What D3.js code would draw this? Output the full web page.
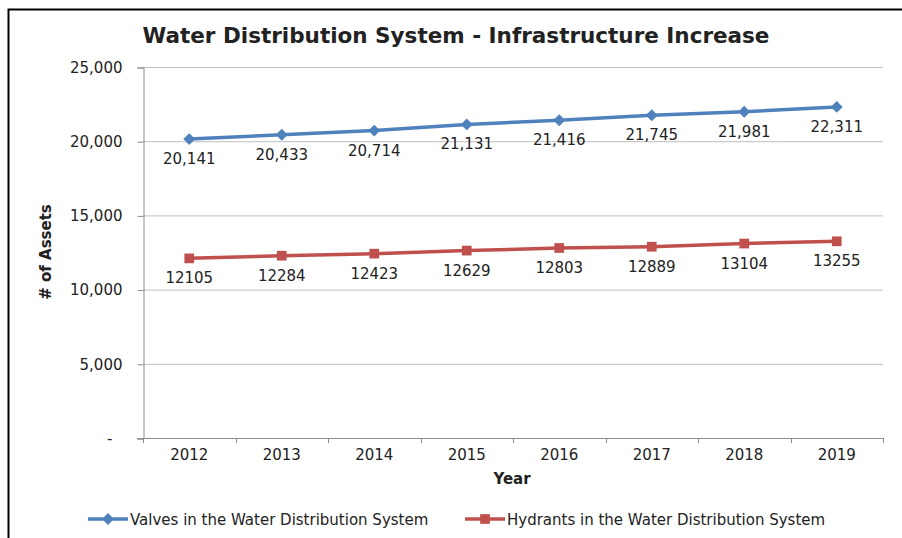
<!DOCTYPE html>
<html>
<head>
<meta charset="utf-8">
<script src="https://cdn.jsdelivr.net/npm/d3@7/dist/d3.min.js"></script>
<style>
  html, body { margin: 0; padding: 0; background: #fff; }
  svg { display: block; }
  text { font-family: "DejaVu Sans", sans-serif; fill: #222; }
</style>
</head>
<body>
<svg id="chart" width="902" height="538"></svg>
<script>
// Asset counts per year
const years = ["2012", "2013", "2014", "2015", "2016", "2017", "2018", "2019"];
const valves = [20141, 20433, 20714, 21131, 21416, 21745, 21981, 22311];
const hydrants = [12105, 12284, 12423, 12629, 12803, 12889, 13104, 13255];
const yTicks = [0, 5000, 10000, 15000, 20000, 25000];
const seriesNames = ["Valves in the Water Distribution System", "Hydrants in the Water Distribution System"];
// Valves labels use thousands separators, hydrant labels are plain
const labelFormats = [d3.format(","), d3.format("d")];
const colors = ["#4F81BD", "#C0504D"];

const svg = d3.select("#chart");
const W = 902, H = 538;
const plot = { left: 143, right: 883, top: 67, bottom: 438 };
const fs = 15;

// outer frame (top and left edges visible)
svg.append("path")
  .attr("d", `M8.5,${H} L8.5,9.5 L${W},9.5`)
  .attr("fill", "none").attr("stroke", "#000").attr("stroke-width", 2);

const x = d3.scaleBand().domain(years).range([plot.left, plot.right]).padding(0);
const y = d3.scaleLinear().domain([0, 25000]).range([plot.bottom, plot.top]);

// horizontal gridlines
svg.append("g").selectAll("line")
  .data(yTicks.filter(d => d > 0))
  .join("line")
  .attr("x1", plot.left).attr("x2", plot.right)
  .attr("y1", d => y(d) + 0.5).attr("y2", d => y(d) + 0.5)
  .attr("stroke", "#BEBEBE").attr("stroke-width", 1);

// y axis
const yAxis = svg.append("g")
  .attr("transform", `translate(${plot.left + 0.5},0.5)`)
  .call(d3.axisLeft(y).tickValues(yTicks).tickSize(6).tickPadding(15)
    .tickFormat(d => d === 0 ? "-" : d3.format(",")(d)));
yAxis.select(".domain").attr("stroke", "#8C8C8C");
yAxis.selectAll(".tick line").attr("stroke", "#8C8C8C");
yAxis.selectAll(".tick text")
  .attr("font-family", "DejaVu Sans").attr("font-size", fs).attr("fill", "#222")
  .filter(d => d === 0).attr("dx", -10);

// x axis: baseline plus ticks on category boundaries
const xg = svg.append("g");
xg.append("line")
  .attr("x1", plot.left - 6).attr("x2", plot.right)
  .attr("y1", plot.bottom + 0.5).attr("y2", plot.bottom + 0.5)
  .attr("stroke", "#8C8C8C");
const bounds = years.map(d => x(d)).concat([x(years[years.length - 1]) + x.bandwidth()]);
xg.selectAll("line.tk").data(bounds).join("line").attr("class", "tk")
  .attr("x1", d => Math.round(d) + 0.5).attr("x2", d => Math.round(d) + 0.5)
  .attr("y1", plot.bottom).attr("y2", plot.bottom + 5)
  .attr("stroke", "#8C8C8C");
xg.selectAll("text").data(years).join("text")
  .attr("x", d => x(d) + x.bandwidth() / 2)
  .attr("y", plot.bottom + 22)
  .attr("text-anchor", "middle")
  .attr("font-size", fs)
  .text(d => d);

// titles
svg.append("text")
  .attr("x", 456).attr("y", 43)
  .attr("text-anchor", "middle")
  .attr("font-size", 21.5).attr("font-weight", "bold").attr("fill", "#000")
  .text("Water Distribution System - Infrastructure Increase");

svg.append("text")
  .attr("transform", "translate(51,252) rotate(-90)")
  .attr("text-anchor", "middle")
  .attr("font-family", "DejaVu Sans Condensed")
  .attr("font-size", 15).attr("font-weight", "bold").attr("fill", "#000")
  .text("# of Assets");

svg.append("text")
  .attr("x", 512).attr("y", 484)
  .attr("text-anchor", "middle")
  .attr("font-size", 15).attr("font-weight", "bold").attr("fill", "#000")
  .text("Year");

// series
const seriesData = [valves, hydrants];
const cx = i => x(years[i]) + x.bandwidth() / 2;
const line = d3.line().x((d, i) => cx(i)).y(d => y(d));
const diamond = d3.symbol().type(d3.symbolDiamond2).size(90);
const square = d3.symbol().type(d3.symbolSquare2).size(120);
const markers = [diamond, square];

seriesData.forEach((vals, s) => {
  const g = svg.append("g");
  g.append("path").datum(vals)
    .attr("d", line)
    .attr("fill", "none").attr("stroke", colors[s]).attr("stroke-width", 3.5);
  g.selectAll("path.m").data(vals).join("path").attr("class", "m")
    .attr("transform", (d, i) => `translate(${cx(i)},${y(d)})`)
    .attr("d", markers[s]())
    .attr("fill", colors[s]);
  g.selectAll("text").data(vals).join("text")
    .attr("x", (d, i) => cx(i))
    .attr("y", d => y(d) + 25)
    .attr("text-anchor", "middle")
    .attr("font-size", fs)
    .text(d => labelFormats[s](d));
});

// legend
const legendItems = [
  { x0: 88, x1: 128, tx: 130 },
  { x0: 465, x1: 505, tx: 507 }
];
legendItems.forEach((it, s) => {
  const g = svg.append("g");
  g.append("line")
    .attr("x1", it.x0).attr("x2", it.x1).attr("y1", 519).attr("y2", 519)
    .attr("stroke", colors[s]).attr("stroke-width", 3.5);
  g.append("path")
    .attr("transform", `translate(${(it.x0 + it.x1) / 2},519)`)
    .attr("d", markers[s]())
    .attr("fill", colors[s]);
  g.append("text")
    .attr("x", it.tx).attr("y", 524.5)
    .attr("font-size", fs)
    .text(seriesNames[s]);
});
</script>
</body>
</html>
